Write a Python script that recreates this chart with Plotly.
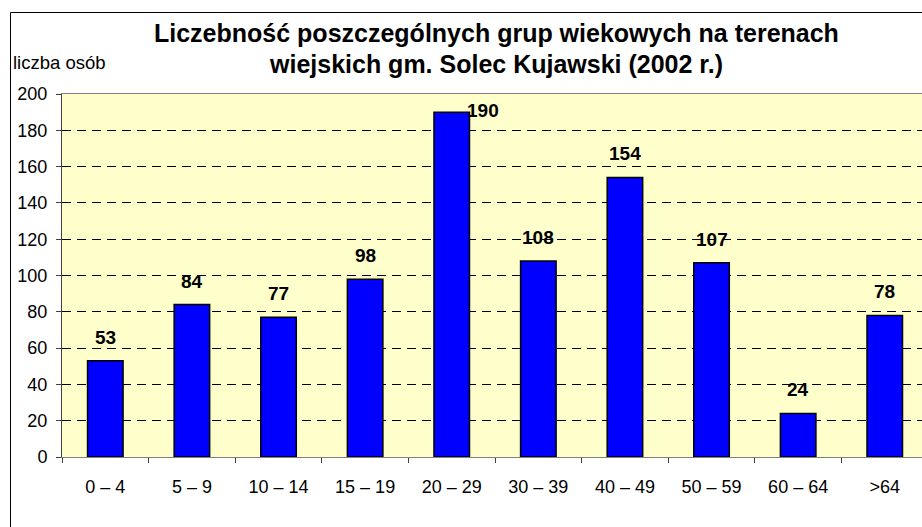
import plotly.graph_objects as go

categories = ["0 – 4", "5 – 9", "10 – 14", "15 – 19", "20 – 29", "30 – 39", "40 – 49", "50 – 59", "60 – 64", ">64"]
values = [53, 84, 77, 98, 190, 108, 154, 107, 24, 78]
y_ticks = [0, 20, 40, 60, 80, 100, 120, 140, 160, 180, 200]
title_line1 = "Liczebność poszczególnych grup wiekowych na terenach"
title_line2 = "wiejskich gm. Solec Kujawski (2002 r.)"
y_label = "liczba osób"

W, H = 922, 527
ML, MR, MT, MB = 62, 0, 94, 70
PW, PH = W - ML - MR, H - MT - MB

def px_x(px):
    return (px - ML) / PW

def px_y(py):
    return (H - MB - py) / PH

FONT = "Liberation Sans, Arial, sans-serif"

fig = go.Figure()
fig.add_trace(go.Bar(
    x=categories, y=values,
    marker=dict(color="#0000FF", line=dict(color="#000000", width=1.5)),
    width=0.41,
    hoverinfo="x+y",
))

annotations = []
for c, v in zip(categories, values):
    if v >= 185:
        annotations.append(dict(x=c, y=v, xref="x", yref="y", text=f"<b>{v}</b>",
                                showarrow=False, xanchor="center", yanchor="middle",
                                xshift=31, yshift=2,
                                font=dict(family=FONT, size=19, color="#000")))
    else:
        annotations.append(dict(x=c, y=v, xref="x", yref="y", text=f"<b>{v}</b>",
                                showarrow=False, xanchor="center", yanchor="bottom",
                                yshift=11,
                                font=dict(family=FONT, size=19, color="#000")))

annotations.append(dict(x=px_x(496), y=px_y(33), xref="paper", yref="paper",
                        text=f"<b>{title_line1}</b>", showarrow=False,
                        xanchor="center", yanchor="middle",
                        font=dict(family=FONT, size=25, color="#000")))
annotations.append(dict(x=px_x(496), y=px_y(64), xref="paper", yref="paper",
                        text=f"<b>{title_line2}</b>", showarrow=False,
                        xanchor="center", yanchor="middle",
                        font=dict(family=FONT, size=25, color="#000")))
annotations.append(dict(x=px_x(11), y=px_y(63), xref="paper", yref="paper",
                        text=y_label, showarrow=False,
                        xanchor="left", yanchor="middle",
                        font=dict(family=FONT, size=18.5, color="#000")))

fig.update_layout(
    width=W, height=H,
    margin=dict(l=ML, r=MR, t=MT, b=MB, pad=0),
    paper_bgcolor="#FFFFFF",
    plot_bgcolor="#FFFFCC",
    showlegend=False,
    annotations=annotations,
    font=dict(family=FONT, size=18, color="#000"),
    shapes=[dict(type="rect", xref="paper", yref="paper",
                 x0=px_x(10.5), y0=px_y(540), x1=px_x(930), y1=px_y(12.5),
                 line=dict(color="#000000", width=1), fillcolor="rgba(0,0,0,0)",
                 layer="below")],
    bargap=0.59,
)

fig.update_xaxes(
    type="category",
    range=[-0.5, 9.43],
    showgrid=False,
    showline=True, linecolor="#808080", linewidth=1, mirror=True,
    ticks="outside", ticklen=5, tickcolor="#404040", tickson="boundaries",
    tickfont=dict(family=FONT, size=18, color="#000"),
    ticklabelstandoff=13,
    zeroline=False,
    fixedrange=True,
)
fig.update_yaxes(
    range=[0, 200],
    tickvals=y_ticks,
    showgrid=True, gridcolor="#000000", gridwidth=1, griddash="9px,6px",
    showline=True, linecolor="#404040", linewidth=1,
    ticks="outside", ticklen=5, tickcolor="#404040",
    tickfont=dict(family=FONT, size=18, color="#000"),
    ticklabelstandoff=5,
    zeroline=False,
    fixedrange=True,
)

fig.write_html("out.html", config={"displayModeBar": False},
               post_script="document.body.style.margin='0';document.body.style.overflow='hidden';")
